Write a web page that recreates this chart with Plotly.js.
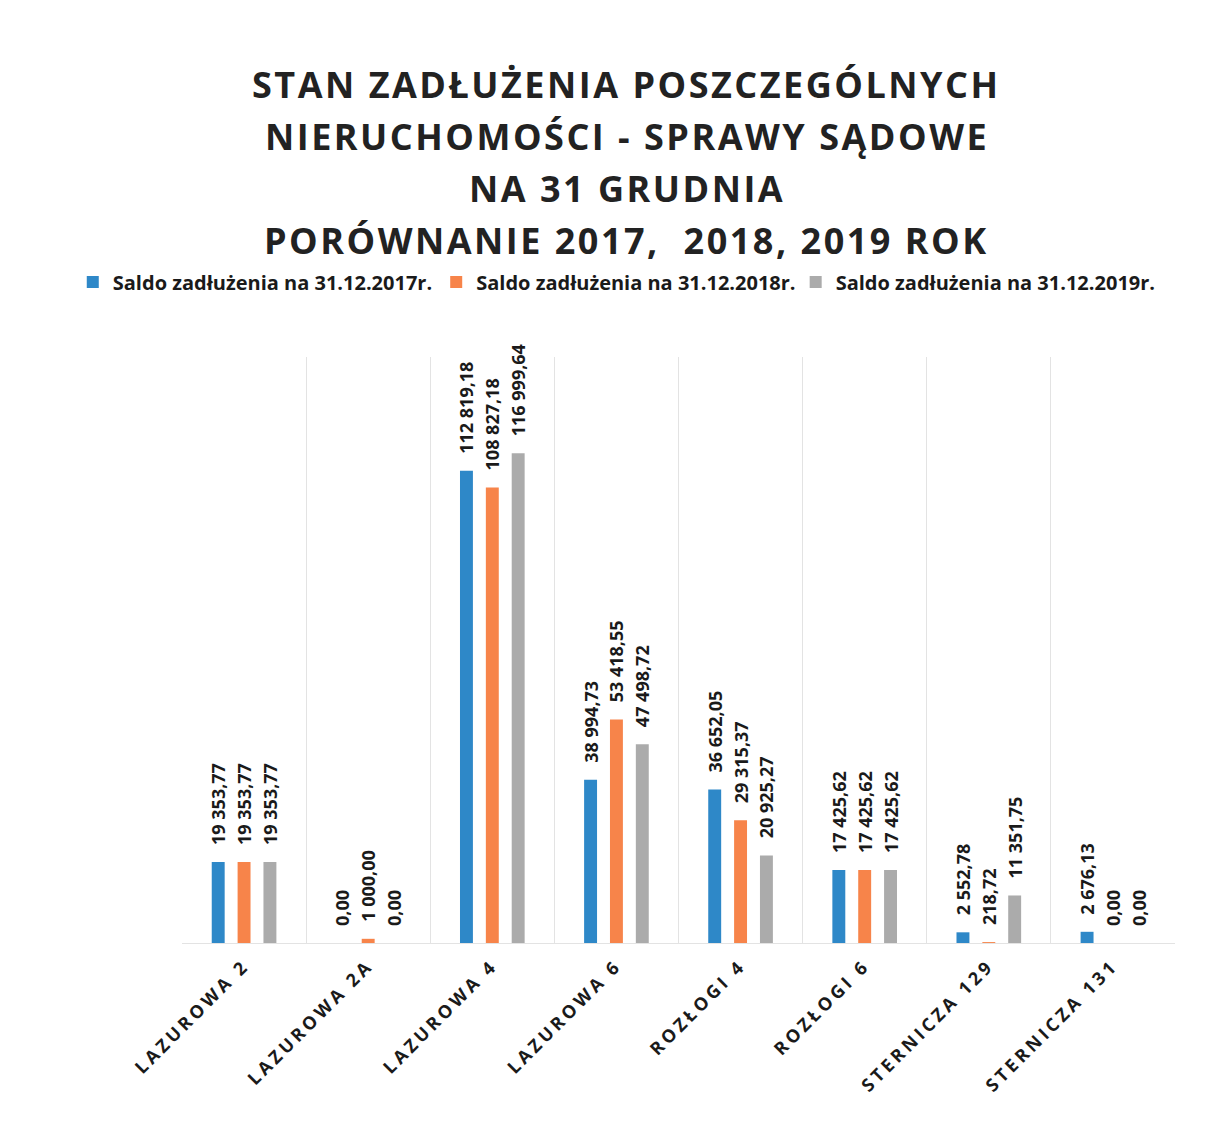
<!DOCTYPE html>
<html>
<head>
<meta charset="utf-8">
<script src="https://cdn.plot.ly/plotly-3.0.1.min.js"></script>
<style>
  html, body { margin: 0; padding: 0; background: #ffffff; }
  #chart { width: 1216px; height: 1138px; }
  .xtick text { letter-spacing: 3.5px; }
  .annotation-text { letter-spacing: 2.5px; }
</style>
</head>
<body>
<div id="chart"></div>
<script>
const categories = ["LAZUROWA 2", "LAZUROWA 2A", "LAZUROWA 4", "LAZUROWA 6", "ROZŁOGI 4", "ROZŁOGI 6", "STERNICZA 129", "STERNICZA 131"];
const series2017 = [19353.77, 0.00, 112819.18, 38994.73, 36652.05, 17425.62, 2552.78, 2676.13];
const series2018 = [19353.77, 1000.00, 108827.18, 53418.55, 29315.37, 17425.62, 218.72, 0.00];
const series2019 = [19353.77, 0.00, 116999.64, 47498.72, 20925.27, 17425.62, 11351.75, 0.00];
const seriesNames = ["Saldo zadłużenia na 31.12.2017r.", "Saldo zadłużenia na 31.12.2018r.", "Saldo zadłużenia na 31.12.2019r."];
const titleLines = ["STAN ZADŁUŻENIA POSZCZEGÓLNYCH", "NIERUCHOMOŚCI - SPRAWY SĄDOWE", "NA 31 GRUDNIA", "PORÓWNANIE 2017,\u00a0 2018, 2019 ROK"];
const colors = ["#2E88C8", "#F7844A", "#ABABAB"];

const labelFont = { family: "Open Sans, sans-serif", size: 18, color: "#1a1a1a", weight: 700 };
const legendIds = ["legend", "legend2", "legend3"];
const legendX = [-0.110, 0.256, 0.618];

function barTrace(values, name, color, legendId) {
  return {
    type: "bar",
    x: categories,
    y: values,
    name: name,
    legend: legendId,
    marker: { color: color },
    texttemplate: "\u00a0\u00a0\u00a0%{y:,.2f}",
    textposition: "outside",
    textangle: -90,
    constraintext: "none",
    cliponaxis: false,
    textfont: labelFont,
    hoverinfo: "x+y+name"
  };
}

const data = [
  barTrace(series2017, seriesNames[0], colors[0], legendIds[0]),
  barTrace(series2018, seriesNames[1], colors[1], legendIds[1]),
  barTrace(series2019, seriesNames[2], colors[2], legendIds[2])
];

const titleY = [1.465, 1.376, 1.288, 1.199];
const annotations = titleLines.map((t, i) => ({
  text: t,
  xref: "paper", yref: "paper",
  x: 0.448, y: titleY[i],
  xanchor: "center", yanchor: "middle",
  showarrow: false,
  font: { family: "Open Sans, sans-serif", size: 36, color: "#222222", weight: 700 }
}));

function legendBox(i) {
  return {
    orientation: "h",
    xref: "paper", yref: "paper",
    x: legendX[i], y: 1.128,
    xanchor: "left", yanchor: "middle",
    font: { family: "Open Sans, sans-serif", size: 20, color: "#1a1a1a", weight: 700 },
    itemsizing: "constant",
    itemwidth: 30,
    bgcolor: "rgba(0,0,0,0)"
  };
}

const layout = {
  width: 1216,
  height: 1138,
  paper_bgcolor: "#ffffff",
  plot_bgcolor: "#ffffff",
  margin: { l: 182, r: 41, t: 357, b: 195 },
  separators: ", ",
  barmode: "group",
  bargap: 0.375,
  bargroupgap: 0.5,
  showlegend: true,
  legend: legendBox(0),
  legend2: legendBox(1),
  legend3: legendBox(2),
  xaxis: {
    type: "category",
    tickson: "boundaries",
    showgrid: true,
    gridcolor: "#e3e3e3",
    gridwidth: 1,
    showline: true,
    linecolor: "#e3e3e3",
    ticks: "",
    tickangle: -45,
    ticklabelstandoff: 4,
    automargin: false,
    tickfont: { family: "Open Sans, sans-serif", size: 18, color: "#1a1a1a", weight: 700 }
  },
  yaxis: {
    range: [0, 140000],
    showgrid: false,
    zeroline: false,
    showticklabels: false,
    ticks: "",
    showline: false,
    automargin: false
  },
  annotations: annotations
};

Plotly.newPlot("chart", data, layout, { displayModeBar: false, staticPlot: true });
</script>
</body>
</html>
